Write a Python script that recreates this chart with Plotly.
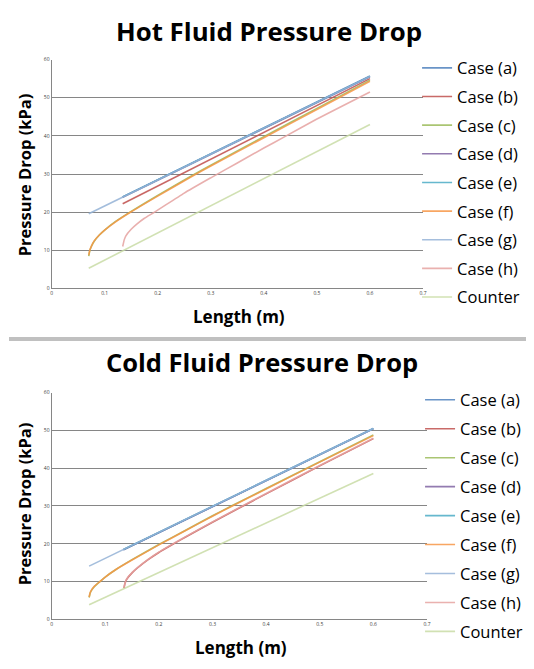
import plotly.graph_objects as go

# ---------------- data ----------------
case_names = ["Case (a)", "Case (b)", "Case (c)", "Case (d)", "Case (e)",
              "Case (f)", "Case (g)", "Case (h)", "Counter"]

# Hot fluid pressure drop (kPa) vs length (m)
hot_a_x = [0.134, 0.6];  hot_a_y = [24.0, 55.7]
hot_b_x = [0.134, 0.6];  hot_b_y = [22.2, 55.0]
hot_c_x = [0.07, 0.072, 0.075, 0.08, 0.09, 0.10, 0.12, 0.15, 0.20, 0.265, 0.30, 0.40, 0.50, 0.60]
hot_c_y = [8.5, 9.9, 11.0, 12.3, 14.0, 15.3, 17.5, 20.2, 24.4, 29.6, 32.3, 39.8, 47.2, 54.6]
hot_d_x = [0.134, 0.6];  hot_d_y = [23.9, 55.5]
hot_e_x = [0.134, 0.6];  hot_e_y = [24.0, 55.6]
hot_f_x = [0.07, 0.072, 0.075, 0.08, 0.09, 0.10, 0.12, 0.15, 0.20, 0.265, 0.30, 0.40, 0.50, 0.60]
hot_f_y = [8.7, 10.0, 11.1, 12.4, 14.0, 15.3, 17.4, 20.1, 24.2, 29.4, 32.1, 39.5, 46.9, 54.3]
hot_g_x = [0.07, 0.6];   hot_g_y = [19.6, 55.6]
hot_h_x = [0.134, 0.137, 0.14, 0.15, 0.16, 0.175, 0.194, 0.25, 0.30, 0.35, 0.40, 0.437, 0.50, 0.60]
hot_h_y = [11.0, 12.8, 13.8, 15.5, 16.8, 18.4, 20.0, 25.0, 29.0, 32.9, 36.8, 39.6, 44.4, 51.5]
hot_counter_x = [0.07, 0.6]; hot_counter_y = [5.3, 43.0]

# Cold fluid pressure drop (kPa) vs length (m)
cold_a_x = [0.134, 0.6];  cold_a_y = [18.4, 50.5]
cold_b_x = [0.135, 0.137, 0.14, 0.15, 0.16, 0.18, 0.20, 0.229, 0.25, 0.30, 0.349, 0.40, 0.50, 0.60]
cold_b_y = [8.3, 9.6, 10.6, 12.3, 13.6, 15.8, 17.7, 20.1, 21.8, 25.7, 29.4, 33.2, 40.6, 47.8]
cold_c_x = [0.07, 0.072, 0.075, 0.08, 0.09, 0.10, 0.12, 0.15, 0.20, 0.25, 0.30, 0.337, 0.40, 0.50, 0.60]
cold_c_y = [5.8, 7.0, 7.8, 8.7, 10.0, 11.2, 13.2, 15.8, 19.8, 23.6, 27.4, 30.1, 34.6, 41.7, 48.8]
cold_d_x = [0.134, 0.6];  cold_d_y = [18.4, 50.4]
cold_e_x = [0.134, 0.6];  cold_e_y = [18.5, 50.5]
cold_f_x = [0.07, 0.072, 0.075, 0.08, 0.09, 0.10, 0.12, 0.15, 0.20, 0.25, 0.30, 0.337, 0.40, 0.50, 0.60]
cold_f_y = [5.9, 7.1, 7.9, 8.8, 10.0, 11.2, 13.2, 15.7, 19.7, 23.5, 27.3, 30.0, 34.5, 41.6, 48.6]
cold_g_x = [0.07, 0.6];   cold_g_y = [14.1, 50.5]
cold_h_x = [0.135, 0.137, 0.14, 0.15, 0.16, 0.18, 0.20, 0.229, 0.25, 0.30, 0.349, 0.40, 0.50, 0.60]
cold_h_y = [8.4, 9.7, 10.7, 12.4, 13.7, 15.9, 17.8, 20.2, 21.9, 25.8, 29.5, 33.3, 40.7, 47.9]
cold_counter_x = [0.07, 0.6]; cold_counter_y = [3.9, 38.6]

x_ticks = [0, 0.1, 0.2, 0.3, 0.4, 0.5, 0.6, 0.7]
y_ticks = [0, 10, 20, 30, 40, 50, 60]

colors = ["#4F81BD", "#C0504D", "#9BBB59", "#8064A2", "#4BACC6",
          "#F79646", "#95B3D7", "#E6A3A1", "#C9DCA6"]

hot_series = [(hot_a_x, hot_a_y), (hot_b_x, hot_b_y), (hot_c_x, hot_c_y),
              (hot_d_x, hot_d_y), (hot_e_x, hot_e_y), (hot_f_x, hot_f_y),
              (hot_g_x, hot_g_y), (hot_h_x, hot_h_y), (hot_counter_x, hot_counter_y)]
cold_series = [(cold_a_x, cold_a_y), (cold_b_x, cold_b_y), (cold_c_x, cold_c_y),
               (cold_d_x, cold_d_y), (cold_e_x, cold_e_y), (cold_f_x, cold_f_y),
               (cold_g_x, cold_g_y), (cold_h_x, cold_h_y), (cold_counter_x, cold_counter_y)]

# page is 534x669 with an 8px body margin around the figure
OFF = 8
W, H = 534 - OFF, 669 - OFF
FONT = "Open Sans"

fig = go.Figure()
for i, (name, (xs, ys)) in enumerate(zip(case_names, hot_series)):
    fig.add_trace(go.Scatter(x=xs, y=ys, mode="lines", name=name,
                             line=dict(color=colors[i], width=1.6, shape="spline", smoothing=0.5),
                             opacity=0.85, xaxis="x", yaxis="y",
                             legend="legend", legendgroup="h" + str(i)))
for i, (name, (xs, ys)) in enumerate(zip(case_names, cold_series)):
    fig.add_trace(go.Scatter(x=xs, y=ys, mode="lines", name=name,
                             line=dict(color=colors[i], width=1.6, shape="spline", smoothing=0.5),
                             opacity=0.85, xaxis="x2", yaxis="y2",
                             legend="legend2", legendgroup="c" + str(i)))

def px_x(p):
    return (p - OFF) / W

def px_y(p):
    return 1 - (p - OFF) / H

axis_common = dict(showgrid=False, zeroline=False, showline=True, linecolor="#868686",
                   linewidth=1, ticks="", tickfont=dict(size=5, color="#404040", family=FONT))
yaxis_common = dict(range=[0, 60], tickvals=y_ticks, showgrid=True, gridcolor="#868686",
                    gridwidth=1, zeroline=False, showline=True, linecolor="#868686",
                    linewidth=1, ticks="", tickfont=dict(size=5, color="#404040", family=FONT))

leg_font = dict(size=16.5, family=FONT, color="black")
fig.update_layout(
    width=W, height=H,
    margin=dict(l=0, r=0, t=0, b=0),
    paper_bgcolor="white", plot_bgcolor="white",
    font=dict(family=FONT, color="black"),
    xaxis=dict(domain=[px_x(51), px_x(426)], range=[0, 0.7], tickvals=x_ticks,
               anchor="y", **axis_common),
    yaxis=dict(domain=[px_y(288), px_y(57)], anchor="x", **yaxis_common),
    xaxis2=dict(domain=[px_x(51), px_x(430)], range=[0, 0.7], tickvals=x_ticks,
                anchor="y2", **axis_common),
    yaxis2=dict(domain=[px_y(622), px_y(393)], anchor="x2", **yaxis_common),
    legend=dict(x=px_x(420), y=px_y(48), xanchor="left", yanchor="top",
                font=leg_font, tracegroupgap=4.2,
                bgcolor="rgba(0,0,0,0)", itemwidth=30),
    legend2=dict(x=px_x(423), y=px_y(383), xanchor="left", yanchor="top",
                 font=leg_font, tracegroupgap=4.5,
                 bgcolor="rgba(0,0,0,0)", itemwidth=30),
    showlegend=True,
)

annotations = [
    dict(text="<b>Hot Fluid Pressure Drop</b>", x=px_x(270), y=px_y(28), xref="paper", yref="paper",
         showarrow=False, font=dict(size=25.8, family=FONT, color="black"), xanchor="center", yanchor="middle"),
    dict(text="<b>Cold Fluid Pressure Drop</b>", x=px_x(263), y=px_y(362), xref="paper", yref="paper",
         showarrow=False, font=dict(size=25.5, family=FONT, color="black"), xanchor="center", yanchor="middle"),
    dict(text="<b>Pressure Drop (kPa)</b>", x=px_x(24), y=px_y(173), xref="paper", yref="paper",
         showarrow=False, textangle=-90, font=dict(size=16.5, family=FONT, color="black"),
         xanchor="center", yanchor="middle"),
    dict(text="<b>Pressure Drop (kPa)</b>", x=px_x(24), y=px_y(505), xref="paper", yref="paper",
         showarrow=False, textangle=-90, font=dict(size=16.5, family=FONT, color="black"),
         xanchor="center", yanchor="middle"),
    dict(text="<b>Length (m)</b>", x=px_x(240), y=px_y(316), xref="paper", yref="paper",
         showarrow=False, font=dict(size=17, family=FONT, color="black"), xanchor="center", yanchor="middle"),
    dict(text="<b>Length (m)</b>", x=px_x(242), y=px_y(650), xref="paper", yref="paper",
         showarrow=False, font=dict(size=17, family=FONT, color="black"), xanchor="center", yanchor="middle"),
]
fig.update_layout(annotations=annotations)

fig.add_shape(type="rect", xref="paper", yref="paper", x0=0, x1=1,
              y0=px_y(341), y1=px_y(337), fillcolor="#C0C0C0", line=dict(width=0), layer="below")

fig.write_html("out.html")
